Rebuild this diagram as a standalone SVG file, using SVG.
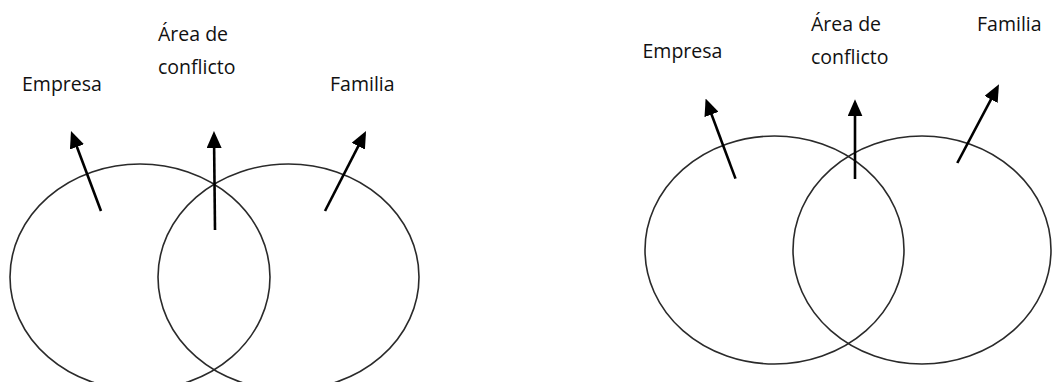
<svg xmlns="http://www.w3.org/2000/svg" width="1057" height="382" viewBox="0 0 1057 382">
<style>
.bg{fill:#ffffff}
.ell{fill:none;stroke:#2a2a2a;stroke-width:1.6}
.lbl{font-family:"Open Sans","Liberation Sans",sans-serif;font-size:19.5px;fill:#111111}
.arr{stroke:#000000;stroke-width:2.6;fill:none;marker-end:url(#ah)}
</style>
<defs>
<marker id="ah" markerUnits="userSpaceOnUse" markerWidth="17" markerHeight="15" viewBox="0 0 17 15" refX="13" refY="7.5" orient="auto">
<path d="M0,0 L17,7.5 L0,15 z" fill="#000000"/>
</marker>
</defs>
<rect class="bg" x="0" y="0" width="1057" height="382"/>
<g id="left-empresa"><ellipse class="ell" cx="140" cy="277" rx="130" ry="113"/><text class="lbl" x="22" y="91">Empresa</text></g>
<g id="left-familia"><ellipse class="ell" cx="288.5" cy="277" rx="130.5" ry="113"/><text class="lbl" x="330" y="91">Familia</text></g>
<g id="left-conflicto"><text class="lbl" x="158" y="41">Área de</text><text class="lbl" x="158" y="74">conflicto</text></g>
<g id="right-empresa"><ellipse class="ell" cx="774.5" cy="250" rx="129.5" ry="114"/><text class="lbl" x="642.5" y="58">Empresa</text></g>
<g id="right-familia"><ellipse class="ell" cx="922" cy="250" rx="129" ry="114"/><text class="lbl" x="977" y="31">Familia</text></g>
<g id="right-conflicto"><text class="lbl" x="811" y="31">Área de</text><text class="lbl" x="811" y="64">conflicto</text></g>
<g id="connectors">
<line class="arr" x1="101" y1="211" x2="72.4" y2="134.7"/>
<line class="arr" x1="215" y1="230" x2="214" y2="135"/>
<line class="arr" x1="325" y1="211" x2="364.2" y2="134.6"/>
<line class="arr" x1="735.5" y1="178.6" x2="707" y2="102.3"/>
<line class="arr" x1="855" y1="179" x2="855" y2="103.3"/>
<line class="arr" x1="957.3" y1="163" x2="997.1" y2="87.9"/>
</g>
</svg>
